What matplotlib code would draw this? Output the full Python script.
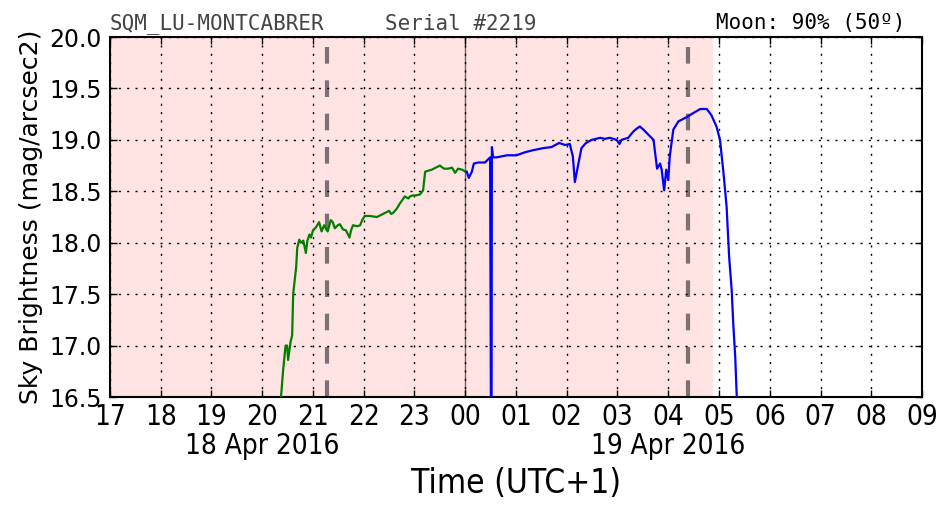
import matplotlib
matplotlib.use("Agg")
import matplotlib.pyplot as plt
from matplotlib import font_manager as fm
import matplotlib.transforms as mtransforms

# Hours after 17:00 (18 Apr 2016, UTC+1)
green_t = [3.37, 3.41, 3.46, 3.49, 3.51, 3.56, 3.59, 3.61, 3.67, 3.69, 3.73, 3.76,
           3.81, 3.86, 3.89, 3.93, 3.96, 4.00, 4.06, 4.12, 4.17, 4.22, 4.29, 4.35,
           4.39, 4.43, 4.49, 4.53, 4.59, 4.65, 4.72, 4.75, 4.79, 4.87, 4.93, 4.97,
           5.02, 5.12, 5.26, 5.34, 5.42, 5.50, 5.54, 5.58, 5.65, 5.71, 5.81, 5.88,
           5.91, 5.97, 6.03, 6.11, 6.17, 6.21, 6.27, 6.34, 6.42, 6.50, 6.58, 6.66,
           6.74, 6.80, 6.86, 6.94, 7.01]
green_v = [16.50, 16.75, 17.00, 17.00, 16.86, 17.04, 17.10, 17.50, 17.77, 17.95, 18.03, 18.00,
           18.02, 17.90, 18.02, 18.08, 18.05, 18.12, 18.15, 18.20, 18.11, 18.17, 18.11, 18.22,
           18.20, 18.14, 18.17, 18.18, 18.13, 18.12, 18.05, 18.12, 18.17, 18.16, 18.17, 18.22,
           18.26, 18.26, 18.25, 18.27, 18.29, 18.31, 18.28, 18.29, 18.33, 18.38, 18.45, 18.43,
           18.45, 18.46, 18.46, 18.47, 18.51, 18.69, 18.70, 18.71, 18.73, 18.75, 18.72, 18.72,
           18.73, 18.68, 18.72, 18.71, 18.69]

blue_t = [7.03, 7.07, 7.13, 7.17, 7.26, 7.39, 7.43, 7.49, 7.515, 7.525, 7.55, 7.62,
          7.82, 8.01, 8.18, 8.34, 8.54, 8.70, 8.85, 8.97, 9.06, 9.12, 9.16, 9.23,
          9.29, 9.38, 9.49, 9.66, 9.75, 9.85, 9.98, 10.04, 10.08, 10.21, 10.31, 10.38,
          10.44, 10.51, 10.61, 10.71, 10.78, 10.84, 10.87, 10.92, 10.96, 11.00, 11.03, 11.10,
          11.20, 11.36, 11.49, 11.63, 11.76, 11.85, 11.95, 12.02, 12.09, 12.15, 12.20, 12.25,
          12.28, 12.32, 12.35, 12.37]
blue_v = [18.69, 18.63, 18.69, 18.77, 18.78, 18.78, 18.80, 18.83, 15.00, 18.93, 18.83, 18.83,
          18.85, 18.85, 18.88, 18.90, 18.92, 18.93, 18.97, 18.95, 18.96, 18.84, 18.59, 18.77,
          18.92, 18.97, 19.00, 19.02, 19.01, 19.02, 19.00, 18.96, 19.00, 19.02, 19.08, 19.11,
          19.13, 19.10, 19.05, 19.00, 18.72, 18.77, 18.71, 18.51, 18.71, 18.61, 18.84, 19.10,
          19.18, 19.22, 19.26, 19.30, 19.30, 19.24, 19.13, 19.00, 18.67, 18.35, 17.86, 17.54,
          17.22, 16.89, 16.50, 16.30]

hour_labels = ['17', '18', '19', '20', '21', '22', '23', '00', '01', '02', '03',
               '04', '05', '06', '07', '08', '09']
night_end = 11.88          # end of shaded (night) period
dashed_lines = [4.28, 11.39]
midnight = 7.0
date_labels = [(3.0, '18 Apr 2016'), (11.0, '19 Apr 2016')]

# narrow font for the x axis, if there is one
narrow = 'DejaVu Sans'
names = {f.name for f in fm.fontManager.ttflist}
for cand in ['DejaVu Sans Condensed', 'Liberation Sans Narrow']:
    if cand in names:
        narrow = cand
        break

fig = plt.figure(figsize=(9.52, 5.12), dpi=100)
ax = fig.add_axes([0.1155, 0.2246, 0.853, 0.7031])

ax.axvspan(0, night_end, color='#ffe3e3', zorder=0, lw=0)
ax.axvline(midnight, color='#666666', lw=1, zorder=1)
for x in dashed_lines:
    ax.axvline(x, color='#7a7272', lw=3, ls=(0, (4, 4)), zorder=1)

ax.plot(green_t, green_v, color='#008000', lw=1.6, zorder=3)
ax.plot(blue_t, blue_v, color='#0000ff', lw=1.6, zorder=3)

ax.set_xlim(0, 16)
ax.set_ylim(16.5, 20.0)
ax.set_xticks(range(17))
ax.set_xticklabels(hour_labels, fontsize=20, family=narrow, stretch='condensed')
ax.set_yticks([16.5 + 0.5 * i for i in range(8)])
ax.set_yticklabels(['%.1f' % (16.5 + 0.5 * i) for i in range(8)], fontsize=17)
ax.tick_params(direction='in', top=True, right=True, length=5, width=1, pad=6)
ax.tick_params(axis='x', pad=4)
ax.grid(True, color='black', ls=(0, (1.5, 4.5)), lw=1)
for s in ax.spines.values():
    s.set_linewidth(1.5)

ax.set_ylabel('Sky Brightness (mag/arcsec2)', fontsize=18, labelpad=4)
ax.set_xlabel('Time (UTC+1)', fontsize=24, family=narrow, stretch='condensed', labelpad=26)

trans = mtransforms.blended_transform_factory(ax.transData, ax.transAxes)
for x, txt in date_labels:
    ax.text(x, -0.135, txt, transform=trans, ha='center', va='center',
            fontsize=20, family=narrow, stretch='condensed')

fig.text(110 / 952, 1 - 29.5 / 512, 'SQM_LU-MONTCABRER', family='DejaVu Sans Mono',
         fontsize=15, color='#444444', ha='left', va='baseline', zorder=5)
fig.text(385 / 952, 1 - 29.5 / 512, 'Serial #2219', family='DejaVu Sans Mono',
         fontsize=15, color='#444444', ha='left', va='baseline', zorder=5)
fig.text(905 / 952, 1 - 29.5 / 512, 'Moon: 90% (50º)', family='DejaVu Sans Mono',
         fontsize=15, color='black', ha='right', va='baseline', zorder=5)

fig.savefig('out.png', dpi=100)
